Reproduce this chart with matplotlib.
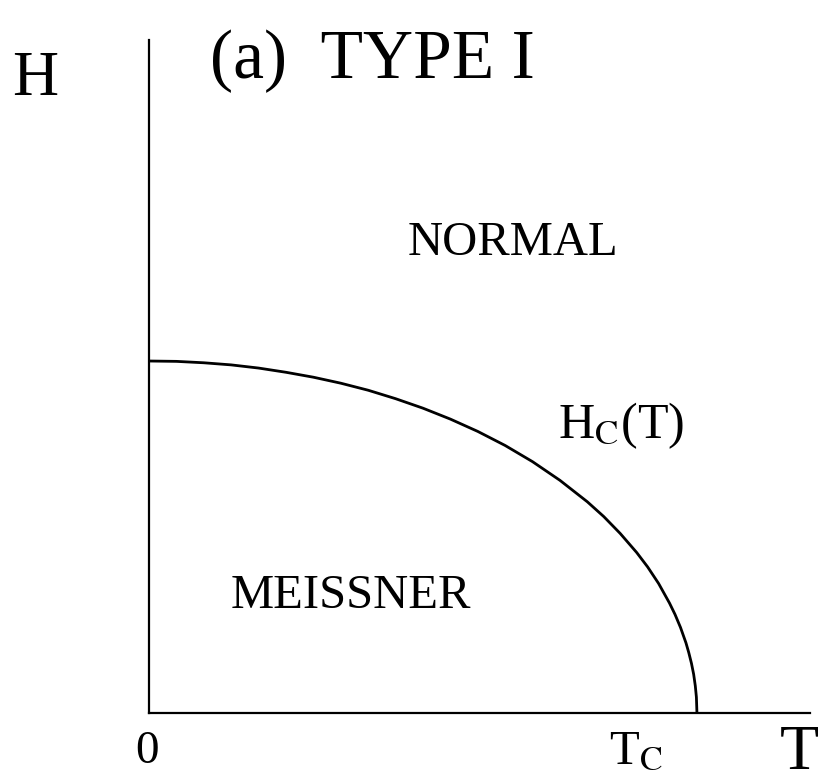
import numpy as np
import matplotlib
matplotlib.use("Agg")
import matplotlib.pyplot as plt

plt.rcParams['font.family'] = ['Liberation Serif', 'DejaVu Serif']
plt.rcParams['mathtext.fontset'] = 'stix'

# Critical field curve Hc(T), in units of Tc and Hc(0)
T_vals = [0.0, 0.05, 0.1, 0.15, 0.2, 0.25, 0.3, 0.35, 0.4, 0.45, 0.5, 0.55,
          0.6, 0.65, 0.7, 0.75, 0.8, 0.83, 0.86, 0.89, 0.91, 0.93, 0.95,
          0.96, 0.97, 0.98, 0.985, 0.99, 0.994, 0.997, 0.999, 1.0]
H_vals = [1.0, 0.999, 0.995, 0.989, 0.98, 0.968, 0.954, 0.937, 0.917, 0.893, 0.866, 0.835,
          0.8, 0.76, 0.714, 0.661, 0.6, 0.558, 0.51, 0.456, 0.415, 0.368, 0.312,
          0.28, 0.243, 0.199, 0.172, 0.141, 0.11, 0.077, 0.045, 0.0]

fig = plt.figure(figsize=(8.24, 7.83), dpi=100)
ax = fig.add_axes([0.1808, 0.0894, 0.802, 0.8595])
ax.set_xlim(0, 1.206)
ax.set_ylim(0, 1.912)

ax.plot(T_vals, H_vals, color='black', lw=2.0, solid_capstyle='butt',
        solid_joinstyle='round')

for side in ['top', 'right']:
    ax.spines[side].set_visible(False)
for side in ['left', 'bottom']:
    ax.spines[side].set_linewidth(1.6)
ax.set_xticks([])
ax.set_yticks([])

txt = dict(color='black', clip_on=False)
ax.text(0.111, 1.804, '(a)  TYPE I', fontsize=50, ha='left', va='baseline', **txt)
ax.text(-0.25, 1.756, 'H', fontsize=46, ha='left', va='baseline', **txt)
ax.text(1.151, -0.16, 'T', fontsize=46, ha='left', va='baseline', **txt)
ax.text(0.664, 1.301, 'NORMAL', fontsize=35, ha='center', va='baseline', **txt)
ax.text(0.369, 0.298, 'MEISSNER', fontsize=35, ha='center', va='baseline', **txt)
ax.text(0.746, 0.781, r'H$_{\mathrm{C}}$(T)', fontsize=36, ha='left', va='baseline', **txt)
ax.text(-0.004, -0.142, '0', fontsize=34, ha='center', va='baseline', **txt)
ax.text(0.84, -0.142, r'T$_{\mathrm{C}}$', fontsize=35, ha='left', va='baseline', **txt)

fig.savefig('out.png', dpi=100)
